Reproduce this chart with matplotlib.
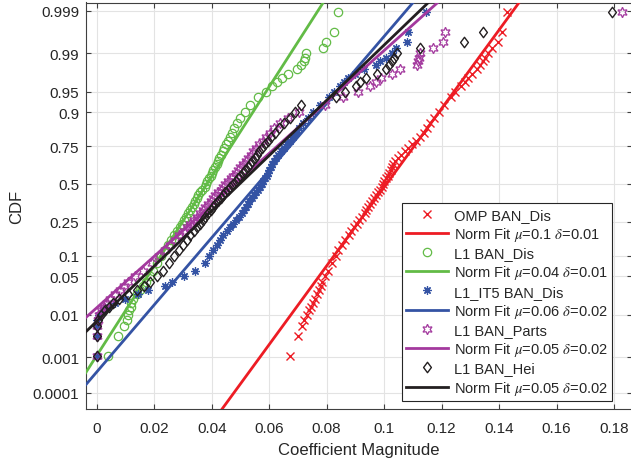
import math
import numpy as np
import matplotlib
matplotlib.use("Agg")
import matplotlib.pyplot as plt
from matplotlib.path import Path

plt.rcParams['font.family'] = ['Liberation Sans', 'DejaVu Sans']
plt.rcParams['mathtext.fontset'] = 'stix'

# ---------------- data ----------------
# CDF levels at which sample values were read
cdf_low = [0.0011, 0.0033, 0.0056, 0.0078, 0.01, 0.0122, 0.0144, 0.0167,
           0.02, 0.025, 0.03, 0.035, 0.04, 0.05]
cdf_mid = [0.06, 0.08, 0.10, 0.12, 0.14, 0.16, 0.18, 0.20, 0.22, 0.24,
           0.26, 0.28, 0.30, 0.32, 0.34, 0.36, 0.38, 0.40, 0.42, 0.44,
           0.46, 0.48, 0.50, 0.52, 0.54, 0.56, 0.58, 0.60, 0.62, 0.64,
           0.66, 0.68, 0.70, 0.72, 0.74, 0.76, 0.78, 0.80, 0.82, 0.84,
           0.86, 0.88, 0.90, 0.92, 0.94]
cdf_high = [0.95, 0.96, 0.965, 0.97, 0.975, 0.98, 0.9833, 0.9856, 0.9878,
            0.99, 0.9922, 0.9944, 0.9967, 0.9989]

omp_ban_dis = [0.0672, 0.0699, 0.0713, 0.0721, 0.0730, 0.0739, 0.0745, 0.0752, 0.0759, 0.0766, 0.0773, 0.0780, 0.0785, 0.0794,
               0.0803, 0.0818, 0.0831, 0.0841, 0.0853, 0.0865, 0.0876, 0.0886, 0.0895, 0.0905, 0.0914, 0.0923, 0.0932, 0.0938, 0.0945,
               0.0952, 0.0959, 0.0966, 0.0973, 0.0980, 0.0985, 0.0991, 0.0996, 0.1001, 0.1006, 0.1012, 0.1017, 0.1022, 0.1027, 0.1032,
               0.1039, 0.1048, 0.1058, 0.1071, 0.1083, 0.1097, 0.1111, 0.1125, 0.1138, 0.1149, 0.1159, 0.1173, 0.1189, 0.1208, 0.1232,
               0.1246, 0.1267, 0.1281, 0.1291, 0.1305, 0.1323, 0.1333, 0.1344, 0.1351, 0.1361, 0.1375, 0.1396, 0.1410, 0.1427]

l1_ban_dis = [0.0038, 0.0075, 0.0096, 0.0104, 0.0110, 0.0114, 0.0118, 0.0121, 0.0126, 0.0140, 0.0151, 0.0161, 0.0171, 0.0185,
              0.0196, 0.0210, 0.0224, 0.0236, 0.0248, 0.0258, 0.0269, 0.0279, 0.0290, 0.0298, 0.0305, 0.0312, 0.0319, 0.0326, 0.0331,
              0.0337, 0.0342, 0.0349, 0.0354, 0.0361, 0.0368, 0.0375, 0.0380, 0.0385, 0.0391, 0.0396, 0.0401, 0.0406, 0.0411, 0.0417,
              0.0422, 0.0427, 0.0432, 0.0438, 0.0443, 0.0450, 0.0457, 0.0464, 0.0471, 0.0479, 0.0488, 0.0500, 0.0516, 0.0533, 0.0561,
              0.0589, 0.0610, 0.0627, 0.0645, 0.0665, 0.0697, 0.0712, 0.0721, 0.0725, 0.0729, 0.0786, 0.0798, 0.0825, 0.0839]

l1it5_ban_dis = [0.0, 0.0, 0.0, 0.0001, 0.0008, 0.0022, 0.0039, 0.0064, 0.0099, 0.0144, 0.0178, 0.0238, 0.0262, 0.0304,
                 0.0342, 0.0375, 0.0391, 0.0405, 0.0417, 0.0429, 0.0441, 0.0453, 0.0464, 0.0474, 0.0484, 0.0495, 0.0504, 0.0511, 0.0518,
                 0.0525, 0.0531, 0.0540, 0.0547, 0.0554, 0.0561, 0.0568, 0.0575, 0.0580, 0.0585, 0.0591, 0.0596, 0.0601, 0.0606, 0.0611,
                 0.0618, 0.0625, 0.0632, 0.0641, 0.0652, 0.0662, 0.0673, 0.0683, 0.0693, 0.0704, 0.0718, 0.0735, 0.0752, 0.0777, 0.0808,
                 0.0825, 0.0846, 0.0860, 0.0874, 0.0899, 0.0930, 0.0972, 0.0986, 0.1006, 0.1027, 0.1041, 0.1080, 0.1084, 0.1145]

l1_ban_parts = [0.0, 0.0, 0.0, 0.0003, 0.0008, 0.0015, 0.0025, 0.0036, 0.0046, 0.0064, 0.0081, 0.0095, 0.0109, 0.0133,
                0.0161, 0.0192, 0.0217, 0.0238, 0.0255, 0.0272, 0.0288, 0.0302, 0.0314, 0.0326, 0.0338, 0.0349, 0.0359, 0.0370, 0.0378,
                0.0387, 0.0396, 0.0405, 0.0413, 0.0422, 0.0431, 0.0439, 0.0448, 0.0457, 0.0466, 0.0474, 0.0483, 0.0491, 0.0500, 0.0509,
                0.0518, 0.0526, 0.0535, 0.0544, 0.0554, 0.0565, 0.0577, 0.0589, 0.0603, 0.0618, 0.0638, 0.0665, 0.0704, 0.0794, 0.0857,
                0.0909, 0.0951, 0.0971, 0.0989, 0.1027, 0.1055, 0.1113, 0.1117, 0.1121, 0.1125, 0.1171, 0.1206, 0.1211, 0.1826]

l1_ban_hei = [0.0, 0.0, 0.0, 0.0006, 0.0015, 0.0029, 0.0043, 0.0057, 0.0078, 0.0109, 0.0140, 0.0165, 0.0186, 0.0210,
              0.0231, 0.0251, 0.0269, 0.0286, 0.0300, 0.0314, 0.0326, 0.0338, 0.0349, 0.0359, 0.0370, 0.0378, 0.0387, 0.0396, 0.0405,
              0.0413, 0.0422, 0.0431, 0.0439, 0.0448, 0.0457, 0.0465, 0.0474, 0.0483, 0.0491, 0.0500, 0.0509, 0.0516, 0.0525, 0.0533,
              0.0540, 0.0549, 0.0558, 0.0566, 0.0575, 0.0585, 0.0596, 0.0606, 0.0620, 0.0634, 0.0651, 0.0673, 0.0690, 0.0710, 0.0832,
              0.0864, 0.0902, 0.0916, 0.0937, 0.0975, 0.1006, 0.1017, 0.1026, 0.1034, 0.1043, 0.1125, 0.1278, 0.1343, 0.1793]

series_names = ['OMP BAN_Dis', 'L1 BAN_Dis', 'L1_IT5 BAN_Dis', 'L1 BAN_Parts', 'L1 BAN_Hei']
fit_mu = [0.1008, 0.0383, 0.0560, 0.0481, 0.0497]
fit_sigma = [0.01426, 0.01252, 0.01671, 0.0218, 0.0203]

x_ticks = [0, 0.02, 0.04, 0.06, 0.08, 0.1, 0.12, 0.14, 0.16, 0.18]
x_tick_labels = ['0', '0.02', '0.04', '0.06', '0.08', '0.1', '0.12', '0.14', '0.16', '0.18']
cdf_ticks = [0.0001, 0.001, 0.01, 0.05, 0.1, 0.25, 0.5, 0.75, 0.9, 0.95, 0.99, 0.999]
cdf_tick_labels = ['0.0001', '0.001', '0.01', '0.05', '0.1', '0.25', '0.5', '0.75', '0.9', '0.95', '0.99', '0.999']

# ---------------- probit scale ----------------
_A = [-3.969683028665376e+01, 2.209460984245205e+02, -2.759285104469687e+02,
      1.383577518672690e+02, -3.066479806614716e+01, 2.506628277459239e+00]
_B = [-5.447609879822406e+01, 1.615858368580409e+02, -1.556989798598866e+02,
      6.680131188771972e+01, -1.328068155288572e+01]
_C = [-7.784894002430293e-03, -3.223964580411365e-01, -2.400758277161838e+00,
      -2.549671010338200e+00, 4.374664141464968e+00, 2.938163982698783e+00]
_D = [7.784695709041462e-03, 3.224671290700398e-01, 2.445134137142996e+00,
      3.754408661907416e+00]


def probit(p):
    p = np.asarray(p, dtype=float)
    shape = p.shape
    p = np.clip(np.atleast_1d(p).ravel(), 1e-12, 1 - 1e-12)
    out = np.empty_like(p)
    plow = 0.02425
    lo = p < plow
    hi = p > 1 - plow
    md = ~(lo | hi)
    if lo.any():
        q = np.sqrt(-2 * np.log(p[lo]))
        out[lo] = (((((_C[0]*q+_C[1])*q+_C[2])*q+_C[3])*q+_C[4])*q+_C[5]) / \
                  ((((_D[0]*q+_D[1])*q+_D[2])*q+_D[3])*q+1)
    if hi.any():
        q = np.sqrt(-2 * np.log(1 - p[hi]))
        out[hi] = -(((((_C[0]*q+_C[1])*q+_C[2])*q+_C[3])*q+_C[4])*q+_C[5]) / \
                  ((((_D[0]*q+_D[1])*q+_D[2])*q+_D[3])*q+1)
    if md.any():
        q = p[md] - 0.5
        r = q * q
        out[md] = (((((_A[0]*r+_A[1])*r+_A[2])*r+_A[3])*r+_A[4])*r+_A[5])*q / \
                  (((((_B[0]*r+_B[1])*r+_B[2])*r+_B[3])*r+_B[4])*r+1)
    return out.reshape(shape)


_erfc = np.vectorize(math.erfc, otypes=[float])


def ncdf(z):
    z = np.asarray(z, dtype=float)
    return 0.5 * _erfc(-z / math.sqrt(2.0))


# ---------------- figure ----------------
TXT = '#262626'
fig = plt.figure(figsize=(6.31, 4.64), dpi=100)
ax = fig.add_axes([86 / 631, 54 / 464, 546 / 631, 406.5 / 464])
ax.set_yscale('function', functions=(probit, ncdf))

colors = ['#ED1C24', '#62BB46', '#3453A4', '#A3399E', '#231F20']
diamond = Path([(0, 1), (0.75, 0), (0, -1), (-0.75, 0), (0, 1)],
               [Path.MOVETO, Path.LINETO, Path.LINETO, Path.LINETO, Path.CLOSEPOLY])
markers = ['x', 'o', (8, 2, 0), (6, 1, 0), diamond]
msizes = [5.5, 6.0, 6.0, 7.5, 7.5]
mews = [1.0, 0.9, 0.9, 0.9, 1.0]

cdf_all = cdf_low + cdf_mid + cdf_high
all_series = [omp_ban_dis, l1_ban_dis, l1it5_ban_dis, l1_ban_parts, l1_ban_hei]
zz = np.array([-6.0, 6.0])
for i, xs in enumerate(all_series):
    assert len(xs) == len(cdf_all), (i, len(xs))
    ax.plot(xs, cdf_all, linestyle='none', marker=markers[i], ms=msizes[i],
            mec=colors[i], mfc='none', mew=mews[i], label=series_names[i],
            zorder=3 + 2 * i)
    mu, sd = fit_mu[i], fit_sigma[i]
    ax.plot(mu + sd * zz, ncdf(zz), color=colors[i], lw=2.0,
            label=r'Norm Fit $\mu$=%g $\delta$=%g' % (round(mu, 2), round(sd, 2)),
            zorder=4 + 2 * i)

ax.set_xlim(-0.00372, 0.1862)
ax.set_ylim(3.03e-5, 0.999392)
ax.set_xticks(x_ticks)
ax.set_xticklabels(x_tick_labels)
ax.set_yticks(cdf_ticks)
ax.set_yticklabels(cdf_tick_labels)
ax.minorticks_off()

ax.grid(True, color='#E3E3E3', lw=0.8)
ax.set_axisbelow(True)
ax.tick_params(direction='in', length=3.5, width=0.8, colors='#404040',
               labelcolor=TXT, labelsize=11, top=True, right=True)
ax.tick_params(axis='x', pad=9)
ax.tick_params(axis='y', pad=5)
for s in ax.spines.values():
    s.set_color('#404040')
    s.set_linewidth(0.8)

ax.set_xlabel('Coefficient Magnitude', fontsize=12, color=TXT, labelpad=5)
ax.set_ylabel('CDF', fontsize=12, color=TXT, labelpad=6)

leg = ax.legend(loc='lower right', bbox_to_anchor=(0.963, 0.0197),
                fontsize=10.5, frameon=True, fancybox=False, edgecolor=TXT,
                framealpha=1, borderaxespad=0, handlelength=2.9,
                handletextpad=0.35, labelspacing=0.22, borderpad=0.3,
                numpoints=1)
leg.get_frame().set_linewidth(0.8)
for t in leg.get_texts():
    t.set_color(TXT)

fig.savefig('out.png', dpi=100, facecolor='white')
